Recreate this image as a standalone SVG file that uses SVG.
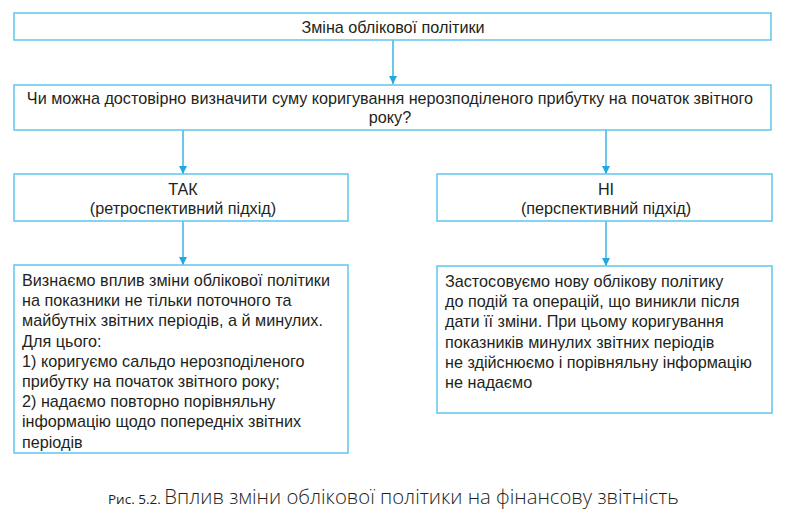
<svg xmlns="http://www.w3.org/2000/svg" width="789" height="531" viewBox="0 0 789 531">
<style>
.box{fill:#fff;stroke:#5fc6ee;stroke-width:1.5}
.t{font-family:"Liberation Sans",Arial,sans-serif;font-size:16.2px;fill:#231f20}
.c{text-anchor:middle}
.ln{stroke:#1fa9e1;stroke-width:1.3;fill:none}
.cap{font-family:"Open Sans","Noto Sans",sans-serif;fill:#231f20}
</style>
<defs>
<marker id="ah" viewBox="0 0 10 10" refX="10" refY="5" markerWidth="8" markerHeight="8" markerUnits="userSpaceOnUse" orient="auto">
<path d="M0,0 L10,5 L0,10 z" fill="#1fa9e1"/>
</marker>
</defs>
<rect width="789" height="531" fill="#fff"/>
<g id="connectors">
<line class="ln" x1="393" y1="40" x2="393" y2="84" marker-end="url(#ah)"/>
<line class="ln" x1="183" y1="130" x2="183" y2="174" marker-end="url(#ah)"/>
<line class="ln" x1="606" y1="130" x2="606" y2="174" marker-end="url(#ah)"/>
<line class="ln" x1="183" y1="221" x2="183" y2="265" marker-end="url(#ah)"/>
<line class="ln" x1="606" y1="221" x2="606" y2="266" marker-end="url(#ah)"/>
</g>
<g id="n1">
<rect class="box" x="14" y="13" width="757" height="27"/>
<text class="t c" x="393" y="32.5">Зміна облікової політики</text>
</g>
<g id="n2">
<rect class="box" x="14" y="85" width="757" height="45"/>
<text class="t c" x="390" y="104">Чи можна достовірно визначити суму коригування нерозподіленого прибутку на початок звітного</text>
<text class="t c" x="390" y="122.5">року?</text>
</g>
<g id="n3">
<rect class="box" x="14" y="174" width="334" height="47"/>
<text class="t c" x="183" y="195">ТАК</text>
<text class="t c" x="183" y="213.5">(ретроспективний підхід)</text>
</g>
<g id="n4">
<rect class="box" x="437" y="174" width="335" height="47"/>
<text class="t c" x="606" y="195">НІ</text>
<text class="t c" x="606" y="213.5">(перспективний підхід)</text>
</g>
<g id="n5">
<rect class="box" x="14" y="265" width="334" height="188"/>
<text class="t" x="22" y="286">Визнаємо вплив зміни облікової політики</text>
<text class="t" x="22" y="306.2">на показники не тільки поточного та</text>
<text class="t" x="22" y="326.4">майбутніх звітних періодів, а й минулих.</text>
<text class="t" x="22" y="346.6">Для цього:</text>
<text class="t" x="22" y="366.8">1) коригуємо сальдо нерозподіленого</text>
<text class="t" x="22" y="387">прибутку на початок звітного року;</text>
<text class="t" x="22" y="407.2">2) надаємо повторно порівняльну</text>
<text class="t" x="22" y="427.4">інформацію щодо попередніх звітних</text>
<text class="t" x="22" y="447.6">періодів</text>
</g>
<g id="n6">
<rect class="box" x="437" y="266" width="335" height="147"/>
<text class="t" x="445" y="287">Застосовуємо нову облікову політику</text>
<text class="t" x="445" y="307.2">до подій та операцій, що виникли після</text>
<text class="t" x="445" y="327.4">дати її зміни. При цьому коригування</text>
<text class="t" x="445" y="347.6">показників минулих звітних періодів</text>
<text class="t" x="445" y="367.8">не здійснюємо і порівняльну інформацію</text>
<text class="t" x="445" y="388">не надаємо</text>
</g>
<g id="caption">
<text class="cap" x="108" y="504"><tspan font-size="13.5px">Рис. 5.2. </tspan><tspan font-size="20.3px" font-weight="300">Вплив зміни облікової політики на фінансову звітність</tspan></text>
</g>
</svg>
